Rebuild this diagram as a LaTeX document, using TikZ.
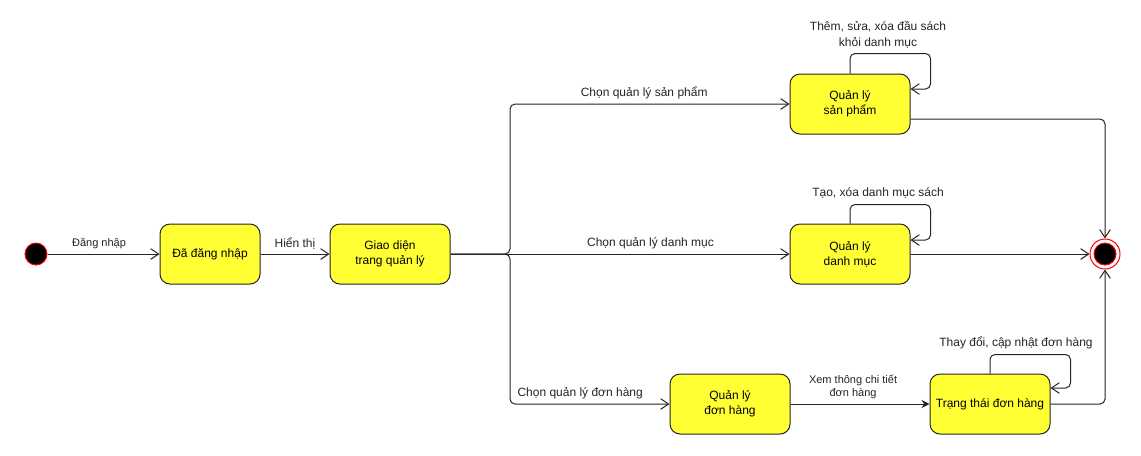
\documentclass[tikz,border=0pt]{standalone}
\usepackage{fontspec}
\setmainfont{Liberation Sans}
\usetikzlibrary{arrows.meta,calc}
\definecolor{statefill}{RGB}{255,255,51}
\definecolor{stateline}{RGB}{36,36,36}
\definecolor{endred}{RGB}{255,0,0}
\tikzstyle{state}=[rectangle, rounded corners=7.5pt, draw=stateline, fill=statefill, minimum width=90pt, minimum height=45pt, align=center, line width=0.75pt, font=\fontsize{9}{11.25}\selectfont]
\tikzset{edge/.style={-{Straight Barb[length=6pt,width=8pt]}, line width=0.75pt, draw=stateline, rounded corners=3.75pt}}
\tikzset{lbl/.style={font=\fontsize{9}{12}\selectfont, align=center, text=stateline}}
\tikzset{smalllbl/.style={font=\fontsize{8.25}{9.75}\selectfont, align=center, text=stateline}}
\tikzset{dot/.style={circle, inner sep=0pt, line width=0.75pt}}

\begin{document}
\begin{tikzpicture}[x=0.75pt, y=-0.75pt]
  \useasboundingbox (0,0) rectangle (1141,455);
  %% States
  \draw (36,254) node[dot, fill=black, draw=endred, minimum size=16.5pt] (start) {};
  \draw (210,254) node[state, minimum width=75pt] (dn) {Đã đăng nhập};
  \draw (390,254) node[state] (gd) {Giao diện\\trang quản lý};
  \draw (850,104) node[state] (sp) {Quản lý\\sản phẩm};
  \draw (850,254) node[state] (dm) {Quản lý\\danh mục};
  \draw (730,404) node[state] (dh) {Quản lý\\đơn hàng};
  \draw (990,404) node[state] (tt) {Trạng thái đơn hàng};
  \draw (1105,254) node[dot, fill=white, draw=endred, minimum size=22.5pt] (fin) {};
  \draw (1105,254) node[dot, fill=black, draw=endred, minimum size=16.5pt] (fincore) {};

  %% Transitions
  \draw[edge] (start) -- node[smalllbl, pos=0.46, above] {Đăng nhập} (dn);
  \draw[edge] (dn) -- node[lbl, above] {Hiển thị} (gd);
  \draw[edge] (gd.east) -- (510,254) |- node[lbl, pos=0.74, above] {Chọn quản lý sản phẩm} (sp.west);
  \draw[edge] (gd.east) -- node[lbl, pos=0.59, above] {Chọn quản lý danh mục} (dm.west);
  \draw[edge] (gd.east) -- (510,254) |- node[lbl, pos=0.72, above] {Chọn quản lý đơn hàng} (dh.west);
  \draw[-{Stealth[length=6pt,width=6pt]}, line width=0.75pt, draw=stateline] (dh) -- node[smalllbl, pos=0.45, above] {Xem thông chi tiết\\đơn hàng} (tt);

  %% Self loops
  \draw[edge] (sp.north) -- ++(0,-20) -| ($(sp.east)+(20,-15)$) -- ($(sp.east)+(0,-15)$);
  \draw[edge] (dm.north) -- ++(0,-19) -| ($(dm.east)+(20,-14)$) -- ($(dm.east)+(0,-14)$);
  \draw[edge] (tt.north) -- ++(0,-19) -| ($(tt.east)+(20,-16)$) -- ($(tt.east)+(0,-16)$);
  \draw (878,35) node[lbl] (lsp) {Thêm, sửa, xóa đầu sách\\khỏi danh mục};
  \draw (878,193) node[lbl] (ldm) {Tạo, xóa danh mục sách};
  \draw (1016,343) node[lbl] (ltt) {Thay đổi, cập nhật đơn hàng};

  %% To the end
  \draw[edge] ($(sp.east)+(0,15)$) -| (fin.north);
  \draw[edge] (dm) -- (fin);
  \draw[edge] (tt.east) -| (fin.south);
\end{tikzpicture}
\end{document}
